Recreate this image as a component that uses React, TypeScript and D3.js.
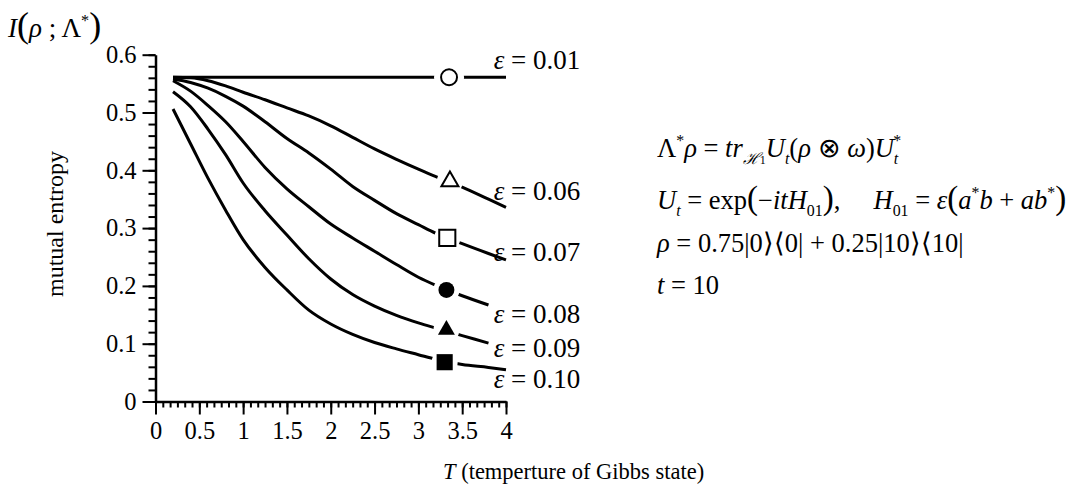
import React, { useRef, useEffect } from 'react';
import * as d3 from 'd3';

// temperature grid (T)
const tValues = [0.2, 0.4, 0.6, 0.8, 1.0, 1.25, 1.5, 1.75, 2.0, 2.25, 2.5, 2.75, 3.0, 3.2, 3.5, 3.8, 4.0];

// mutual entropy for each epsilon
const eps001 = [0.561, 0.561, 0.561, 0.561, 0.561, 0.561, 0.561, 0.561, 0.561, 0.561, 0.561, 0.561, 0.561, 0.561, 0.561, 0.561, 0.561];
const eps006 = [0.561, 0.560, 0.555, 0.546, 0.535, 0.522, 0.508, 0.494, 0.477, 0.457, 0.437, 0.419, 0.402, 0.389, 0.371, 0.350, 0.336];
const eps007 = [0.558, 0.552, 0.542, 0.528, 0.511, 0.484, 0.455, 0.430, 0.402, 0.372, 0.348, 0.325, 0.306, 0.291, 0.273, 0.256, 0.245];
const eps008 = [0.555, 0.537, 0.512, 0.484, 0.450, 0.405, 0.368, 0.337, 0.307, 0.283, 0.260, 0.237, 0.215, 0.201, 0.183, 0.167, null];
const eps009 = [0.536, 0.510, 0.471, 0.427, 0.378, 0.330, 0.288, 0.247, 0.212, 0.185, 0.165, 0.149, 0.136, 0.127, 0.114, 0.101, null];
const eps010 = [0.506, 0.446, 0.386, 0.331, 0.280, 0.232, 0.193, 0.158, 0.134, 0.116, 0.102, 0.091, 0.081, 0.073, 0.064, 0.059, 0.055];

const seriesValues = [eps001, eps006, eps007, eps008, eps009, eps010];
const epsLabels = ['0.01', '0.06', '0.07', '0.08', '0.09', '0.10'];

// marker on each curve
const markerT = [3.35, 3.36, 3.33, 3.32, 3.32, 3.3];
const markerI = [0.561, 0.381, 0.283, 0.193, 0.124, 0.068];
const markerShapes = ['circle', 'triangle', 'square', 'circle', 'triangle', 'square'];
const markerFilled = [false, false, false, true, true, true];

// where the epsilon labels sit, in data units
const labelT = 3.86;
const labelI = [0.575, 0.349, 0.243, 0.136, 0.077, 0.023];

const xTicks = [0, 0.5, 1, 1.5, 2, 2.5, 3, 3.5, 4];
const yTicks = [0, 0.1, 0.2, 0.3, 0.4, 0.5, 0.6];

type Seg = { t: string; i?: boolean; s?: 'sub' | 'sup'; dx?: number; fs?: number };

function rich(g: any, x: number, y: number, segs: Seg[], size: number) {
    const text = g.append('text')
        .attr('x', x)
        .attr('y', y)
        .attr('font-size', size)
        .style('white-space', 'pre');
    let shift = 0;
    segs.forEach(sg => {
        const target = sg.s === 'sub' ? size * 0.28 : sg.s === 'sup' ? -size * 0.4 : 0;
        const ts = text.append('tspan').text(sg.t).attr('dy', target - shift);
        shift = target;
        if (sg.i) ts.attr('font-style', 'italic');
        if (sg.s) ts.attr('font-size', size * 0.6);
        if (sg.fs) ts.attr('font-size', sg.fs);
        if (sg.dx) ts.attr('dx', sg.dx);
    });
    return text;
}

const Chart = () => {
    const svgRef = useRef<SVGSVGElement>(null);

    useEffect(() => {
        d3.select(svgRef.current).selectAll('*').remove();

        const svg = d3.select(svgRef.current)
            .attr('width', 1074)
            .attr('height', 491)
            .style('background', '#fff')
            .attr('font-family', '"Liberation Serif", "Times New Roman", serif');

        const xScale = d3.scaleLinear().domain([0, 4]).range([155.5, 506]);
        const yScale = d3.scaleLinear().domain([0, 0.6]).range([401.5, 54.7]);

        // minor ticks
        const xMinor = d3.axisBottom(xScale)
            .tickValues(d3.range(0, 49).map(i => i / 12))
            .tickSize(6)
            .tickSizeOuter(0)
            .tickFormat(() => '');
        const gxm = svg.append('g').attr('transform', `translate(0, ${yScale(0)})`).call(xMinor);
        gxm.select('.domain').remove();

        const yMinor = d3.axisLeft(yScale)
            .tickValues(d3.range(0, 31).map(i => i * 0.02))
            .tickSize(7)
            .tickSizeOuter(0)
            .tickFormat(() => '');
        const gym = svg.append('g').attr('transform', `translate(${xScale(0)}, 0)`).call(yMinor);
        gym.select('.domain').remove();

        // major ticks + labels
        const xAxis = d3.axisBottom(xScale)
            .tickValues(xTicks)
            .tickSize(13)
            .tickSizeOuter(0)
            .tickPadding(7)
            .tickFormat(d => String(d));
        const gx = svg.append('g').attr('transform', `translate(0, ${yScale(0)})`).call(xAxis);

        const yAxis = d3.axisLeft(yScale)
            .tickValues(yTicks)
            .tickSize(13)
            .tickSizeOuter(0)
            .tickPadding(6)
            .tickFormat(d => String(d));
        const gy = svg.append('g').attr('transform', `translate(${xScale(0)}, 0)`).call(yAxis);

        [gx, gy, gxm, gym].forEach(g => {
            g.selectAll('line').attr('stroke', '#000').attr('stroke-width', 2);
            g.selectAll('.domain').attr('stroke', '#000').attr('stroke-width', 2.5);
            g.selectAll('text')
                .attr('font-family', '"Liberation Serif", serif')
                .attr('font-size', 24.5)
                .attr('fill', '#000');
        });

        // curves
        const line = d3.line<number | null>()
            .defined(d => d !== null)
            .x((_, i) => xScale(tValues[i]))
            .y(d => yScale(d as number))
            .curve(d3.curveMonotoneX);

        seriesValues.forEach(vals => {
            svg.append('path')
                .datum(vals)
                .attr('fill', 'none')
                .attr('stroke', '#000')
                .attr('stroke-width', 3)
                .attr('d', line);
        });

        // markers with a white gap around them
        const symbolFor: Record<string, any> = {
            circle: d3.symbolCircle,
            triangle: d3.symbolTriangle,
            square: d3.symbolSquare,
        };
        const sizeFor: Record<string, number> = { circle: 200, triangle: 125, square: 260 };
        markerT.forEach((t, i) => {
            const cx = xScale(t);
            const cy = yScale(markerI[i]);
            svg.append('circle')
                .attr('cx', cx)
                .attr('cy', cy)
                .attr('r', i === 0 ? 15 : 13)
                .attr('fill', '#fff');
            const shape = markerShapes[i];
            svg.append('path')
                .attr('transform', `translate(${cx},${cy})`)
                .attr('d', d3.symbol().type(symbolFor[shape]).size(sizeFor[shape])() as string)
                .attr('fill', markerFilled[i] ? '#000' : '#fff')
                .attr('stroke', '#000')
                .attr('stroke-width', markerFilled[i] ? 0 : 2);
        });

        // epsilon labels
        epsLabels.forEach((lab, i) => {
            rich(svg, xScale(labelT), yScale(labelI[i]), [
                { t: 'ε', i: true },
                { t: ' = ' + lab },
            ], 27);
        });

        // axis titles
        rich(svg, 8, 37, [
            { t: 'I', i: true },
            { t: '(', fs: 36 },
            { t: 'ρ', i: true },
            { t: ' ; Λ' },
            { t: '*', s: 'sup' },
            { t: ')', fs: 36 },
        ], 27);

        svg.append('text')
            .attr('transform', 'translate(63, 224) rotate(-90)')
            .attr('text-anchor', 'middle')
            .attr('font-size', 24)
            .text('mutual entropy');

        rich(svg, 443, 479, [
            { t: 'T', i: true },
            { t: ' (temperture of Gibbs state)' },
        ], 22.5);

        // model description on the right
        const fs = 26.5;
        rich(svg, 657, 157, [
            { t: 'Λ' },
            { t: '*', s: 'sup' },
            { t: 'ρ', i: true },
            { t: ' = ' },
            { t: 'tr', i: true },
            { t: 'ℋ', s: 'sub', i: true },
            { t: '1', s: 'sub', fs: 12 },
            { t: 'U', i: true },
            { t: 't', s: 'sub', i: true },
            { t: '(' },
            { t: 'ρ', i: true },
            { t: ' ⊗ ' },
            { t: 'ω', i: true },
            { t: ')' },
            { t: 'U', i: true },
            { t: 't', s: 'sub', i: true },
            { t: '*', s: 'sup', dx: -5 },
        ], fs);

        rich(svg, 657, 209, [
            { t: 'U', i: true },
            { t: 't', s: 'sub', i: true },
            { t: ' = exp' },
            { t: '(', fs: 33 },
            { t: '−' },
            { t: 'itH', i: true },
            { t: '01', s: 'sub' },
            { t: ')', fs: 33 },
            { t: ',     ' },
            { t: 'H', i: true },
            { t: '01', s: 'sub' },
            { t: ' = ' },
            { t: 'ε', i: true },
            { t: '(', fs: 33 },
            { t: 'a', i: true },
            { t: '*', s: 'sup' },
            { t: 'b', i: true },
            { t: ' + ' },
            { t: 'ab', i: true },
            { t: '*', s: 'sup' },
            { t: ')', fs: 33 },
        ], fs);

        rich(svg, 657, 252, [
            { t: 'ρ', i: true },
            { t: ' = 0.75|0⟩⟨0| + 0.25|10⟩⟨10|' },
        ], fs);

        rich(svg, 657, 294, [
            { t: 't', i: true },
            { t: ' = 10' },
        ], fs);
    }, []);

    return <svg ref={svgRef} style={{ position: 'absolute', left: 0, top: 0, display: 'block' }}></svg>;
};

export default function App() {
    return <Chart />;
}
